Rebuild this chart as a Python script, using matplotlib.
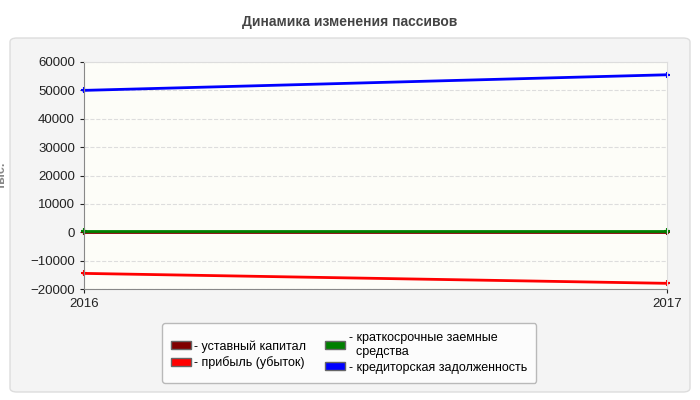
import matplotlib.pyplot as plt
from matplotlib.patches import FancyBboxPatch, Patch

years = ["2016", "2017"]
ustavny = [10, 10]
pribyl = [-14500, -18000]
kratkosroch = [300, 300]
kreditor = [50000, 55500]

labels = ["- уставный капитал", "- прибыль (убыток)",
          "- краткосрочные заемные\n  средства", "- кредиторская задолженность"]
colors = ["#800000", "#ff0000", "#008000", "#0000ff"]

plt.rcParams['font.family'] = ['Liberation Sans', 'DejaVu Sans']

fig = plt.figure(figsize=(7, 4), dpi=100)
fig.patch.set_facecolor("white")
panel = FancyBboxPatch((10 / 700, 8 / 400), 680 / 700, 354 / 400,
                       boxstyle="round,pad=0,rounding_size=0.01",
                       transform=fig.transFigure, facecolor="#f4f4f4",
                       edgecolor="#dddddd", linewidth=1, zorder=-10)
fig.patches.append(panel)
fig.text(0.5, 0.945, "Динамика изменения пассивов", ha="center", va="center",
         fontsize=10, fontweight="bold", color="#444444")

ax = fig.add_axes([84 / 700, 1 - 289 / 400, 583 / 700, 227 / 400])
ax.set_facecolor("#fdfdf8")
x = [0, 1]
for vals, c in zip([ustavny, kratkosroch, pribyl, kreditor],
                   [colors[0], colors[2], colors[1], colors[3]]):
    ax.plot(x, vals, color=c, lw=2, marker="+", ms=4, mew=1.5, clip_on=False)
ax.set_xlim(0, 1)
ax.set_ylim(-20000, 60000)
ax.set_yticks(range(-20000, 60001, 10000))
ax.set_xticks(x)
ax.set_xticklabels(years)
ax.tick_params(labelsize=9.5, colors="#222222", length=3)
ax.yaxis.grid(True, ls="--", color="#dddddd", lw=0.8)
for s in ["top", "right"]:
    ax.spines[s].set_color("#dddddd")
for s in ["left", "bottom"]:
    ax.spines[s].set_color("#888888")
ax.set_ylabel("тыс.", color="#888888", fontsize=9, fontweight="bold", labelpad=16)

handles = [Patch(facecolor=c, edgecolor="#666666") for c in colors]
leg = fig.legend(handles, labels, loc="center", bbox_to_anchor=(349 / 700, 1 - 353 / 400),
                 ncol=2, fontsize=9, frameon=True, handlelength=1.6, handleheight=0.6,
                 handletextpad=0.3, columnspacing=1.5, labelspacing=0.3,
                 borderpad=0.7, fancybox=True)
leg.get_frame().set_edgecolor("#aaaaaa")
leg.get_frame().set_facecolor("white")

fig.savefig("out.png", dpi=100)
